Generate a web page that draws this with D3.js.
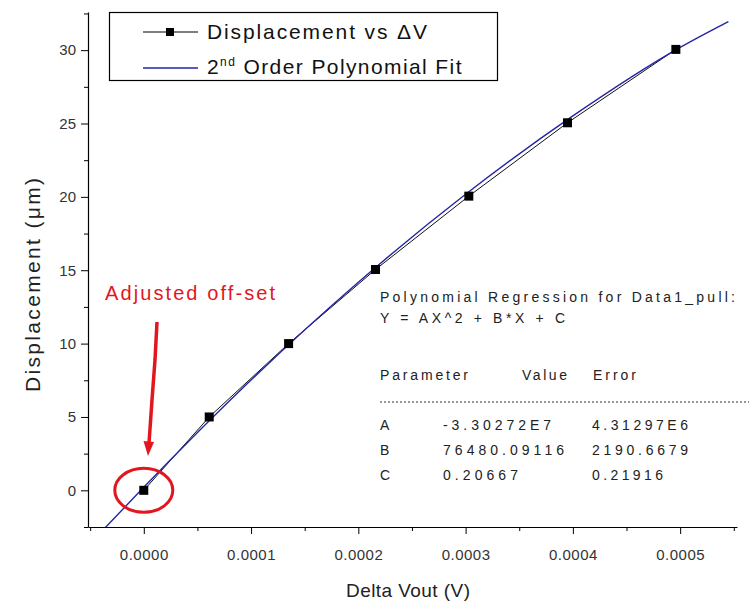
<!DOCTYPE html>
<html lang="en">
<head>
  <meta charset="UTF-8">
  <title>Displacement vs Delta V</title>
  <script src="https://d3js.org/d3.v7.min.js"></script>
  <style>
    body {
      margin: 0;
      padding: 0;
      background: #fff;
    }
    svg {
      display: block;
      font-family: "Liberation Sans", Arial, sans-serif;
    }
    .tick text {
      fill: #333;
      font-size: 15px;
    }
    .reg text {
      fill: #222;
      font-size: 14px;
    }
  </style>
</head>
<body>
  <svg id="chart" width="749" height="603"></svg>

  <script>
    // measured points
    const deltaV = [0, 0.000061, 0.000135, 0.000216, 0.000303, 0.000395, 0.000496];
    const displacement = [0, 5, 10, 15.05, 20.05, 25.05, 30.05];

    // fit curve
    const fitX = [-0.000036, 0, 0.0001, 0.0002, 0.0003, 0.0004, 0.0005, 0.000545];
    const fitY = [-2.55, 0.21, 7.52, 14.18, 20.18, 25.52, 30.19, 31.95];

    const xTicks = [0, 0.0001, 0.0002, 0.0003, 0.0004, 0.0005];
    const yTicks = [0, 5, 10, 15, 20, 25, 30];

    const paramNames = ["A", "B", "C"];
    const paramValues = ["-3.30272E7", "76480.09116", "0.20667"];
    const paramErrors = ["4.31297E6", "2190.6679", "0.21916"];

    const data = deltaV.map((v, i) => ({ x: v, y: displacement[i] }));
    const fit = fitX.map((v, i) => ({ x: v, y: fitY[i] }));

    const svg = d3.select("#chart");
    const plotL = 88, plotR = 737, plotT = 12, plotB = 527;

    const x = d3.scaleLinear().domain([-0.000052, 0.000553]).range([plotL, plotR]);
    const y = d3.scaleLinear().domain([-2.5, 32.6]).range([plotB, plotT]);

    svg.append("clipPath").attr("id", "plot")
      .append("rect")
      .attr("x", plotL).attr("y", plotT)
      .attr("width", plotR - plotL).attr("height", plotB - plotT);

    // minor ticks
    const xMinor = d3.range(-1, 12, 2).map(i => +(i * 0.00005).toFixed(6));
    const yMinor = d3.range(-1, 14, 2).map(i => i * 2.5);

    svg.append("g")
      .attr("transform", `translate(0,${plotB})`)
      .call(d3.axisBottom(x).tickValues(xMinor).tickSize(4).tickFormat(""))
      .call(g => g.select(".domain").remove())
      .selectAll("line").attr("stroke", "#000");

    svg.append("g")
      .attr("transform", `translate(${plotL},0)`)
      .call(d3.axisLeft(y).tickValues(yMinor).tickSize(4).tickFormat(""))
      .call(g => g.select(".domain").remove())
      .selectAll("line").attr("stroke", "#000");

    // major axes
    const xAxis = svg.append("g")
      .attr("transform", `translate(0,${plotB})`)
      .call(d3.axisBottom(x).tickValues(xTicks).tickSize(7).tickSizeOuter(0)
        .tickFormat(d3.format(".4f")));
    xAxis.selectAll("text").attr("dy", "1.5em").attr("letter-spacing", 0.5);

    const yAxis = svg.append("g")
      .attr("transform", `translate(${plotL},0)`)
      .call(d3.axisLeft(y).tickValues(yTicks).tickSize(7).tickSizeOuter(0));
    yAxis.selectAll("text").attr("x", -12);

    svg.selectAll(".domain").attr("stroke", "#000").attr("stroke-width", 1.2);
    svg.selectAll(".tick line").attr("stroke", "#000");

    // axis titles
    svg.append("text")
      .attr("x", 408).attr("y", 597)
      .attr("text-anchor", "middle")
      .attr("font-size", 19)
      .attr("fill", "#222")
      .attr("textLength", 124)
      .text("Delta Vout (V)");

    svg.append("text")
      .attr("transform", "translate(40,285) rotate(-90)")
      .attr("text-anchor", "middle")
      .attr("font-size", 21)
      .attr("fill", "#222")
      .attr("textLength", 214)
      .text("Displacement (\u03bcm)");

    const plot = svg.append("g").attr("clip-path", "url(#plot)");

    // data line
    plot.append("path")
      .datum(data)
      .attr("fill", "none")
      .attr("stroke", "#111")
      .attr("stroke-width", 1)
      .attr("d", d3.line().x(d => x(d.x)).y(d => y(d.y)));

    // fit line
    plot.append("path")
      .datum(fit)
      .attr("fill", "none")
      .attr("stroke", "#2424a8")
      .attr("stroke-width", 1.4)
      .attr("d", d3.line().curve(d3.curveMonotoneX).x(d => x(d.x)).y(d => y(d.y)));

    plot.selectAll(".pt")
      .data(data)
      .enter().append("rect")
      .attr("class", "pt")
      .attr("x", d => x(d.x) - 4.5)
      .attr("y", d => y(d.y) - 4.5)
      .attr("width", 9)
      .attr("height", 9)
      .attr("fill", "#000");

    // legend
    const legend = svg.append("g");
    legend.append("rect")
      .attr("x", 109.5).attr("y", 12.5)
      .attr("width", 388).attr("height", 68)
      .attr("fill", "#fff")
      .attr("stroke", "#000")
      .attr("stroke-width", 1.2);
    legend.append("line")
      .attr("x1", 143).attr("x2", 198).attr("y1", 32).attr("y2", 32)
      .attr("stroke", "#000").attr("stroke-width", 1.2);
    legend.append("rect")
      .attr("x", 166).attr("y", 28).attr("width", 8).attr("height", 8)
      .attr("fill", "#000");
    legend.append("text")
      .attr("x", 207).attr("y", 39)
      .attr("font-size", 21)
      .attr("fill", "#111")
      .attr("textLength", 220)
      .text("Displacement vs \u0394V");
    legend.append("line")
      .attr("x1", 143).attr("x2", 198).attr("y1", 68).attr("y2", 68)
      .attr("stroke", "#2424a8").attr("stroke-width", 1.4);
    const l2 = legend.append("text")
      .attr("x", 207).attr("y", 74)
      .attr("font-size", 21)
      .attr("fill", "#111")
      .attr("letter-spacing", 1.4);
    l2.append("tspan").text("2");
    l2.append("tspan").attr("font-size", 12).attr("dy", -8).text("nd");
    l2.append("tspan").attr("dy", 8).text(" Order Polynomial Fit");

    // annotation
    const red = "#e3161f";
    svg.append("text")
      .attr("x", 105).attr("y", 300)
      .attr("font-size", 20)
      .attr("fill", red)
      .attr("textLength", 170)
      .text("Adjusted off-set");
    svg.append("path")
      .attr("d", "M157,322 L155,360 L152,400 L149,443")
      .attr("fill", "none")
      .attr("stroke", red)
      .attr("stroke-width", 3.5);
    svg.append("path")
      .attr("d", "M143.5,441 L154,442 L148,456 Z")
      .attr("fill", red);
    svg.append("ellipse")
      .attr("cx", x(deltaV[0])).attr("cy", y(displacement[0]))
      .attr("rx", 29).attr("ry", 22)
      .attr("fill", "none")
      .attr("stroke", red)
      .attr("stroke-width", 3);

    // regression results
    const reg = svg.append("g").attr("class", "reg");
    reg.append("text").attr("x", 380).attr("y", 302).attr("textLength", 355)
      .text("Polynomial Regression for Data1_pull:");
    reg.append("text").attr("x", 380).attr("y", 323).attr("textLength", 185)
      .text("Y = AX^2 + B*X + C");
    reg.append("text").attr("x", 380).attr("y", 380).attr("textLength", 88).text("Parameter");
    reg.append("text").attr("x", 522).attr("y", 380).attr("textLength", 45).text("Value");
    reg.append("text").attr("x", 593).attr("y", 380).attr("textLength", 43).text("Error");
    reg.append("line")
      .attr("x1", 380).attr("x2", 749).attr("y1", 402).attr("y2", 402)
      .attr("stroke", "#333").attr("stroke-dasharray", "2,2");

    const rowY = [430, 455, 480];
    const valLen = [108, 121, 75];
    const errLen = [96, 96, 71];
    paramNames.forEach((p, i) => {
      reg.append("text").attr("x", 380).attr("y", rowY[i]).text(p);
      reg.append("text").attr("x", 443).attr("y", rowY[i]).attr("textLength", valLen[i]).text(paramValues[i]);
      reg.append("text").attr("x", 592).attr("y", rowY[i]).attr("textLength", errLen[i]).text(paramErrors[i]);
    });
  </script>
</body>
</html>
